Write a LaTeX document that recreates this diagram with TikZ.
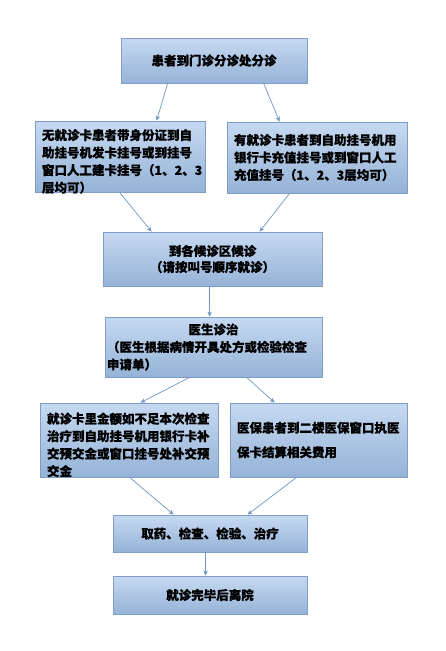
\documentclass[tikz,border=0pt]{standalone}
\usepackage{fontspec}
\newfontfamily\cjk{Noto Sans CJK SC}[BoldFeatures={FakeBold=0.6}]
\usepackage{xcolor}
\usepackage{tikz}
\usetikzlibrary{arrows.meta, positioning}

\definecolor{boxtop}{HTML}{C6D9F1}
\definecolor{boxbot}{HTML}{95B3D7}
\definecolor{boxline}{HTML}{7F9DC6}
\definecolor{arrowc}{HTML}{6F95C6}

\begin{document}
\begin{tikzpicture}[
    x=1pt, y=-1pt,
    box/.style={rectangle, draw=boxline, line width=0.8pt,
                top color=boxtop, bottom color=boxbot,
                inner xsep=7pt, inner ysep=2pt,
                font=\cjk\bfseries\fontsize{12.5}{17.5}\selectfont},
    flow/.style={box, align=center},
    note/.style={box, align=left},
    arrow/.style={-{Stealth[length=5pt, width=4.5pt]}, draw=arrowc, line width=0.7pt},
]
\useasboundingbox (0,0) rectangle (445,651);

% ── Row 1 : triage ────────────────────────────────────────────────
\node[flow, minimum width=186pt, minimum height=45pt]
                (arrive)  at (214,60.5) {患者到门诊分诊处分诊};

% ── Row 2 : registration (no card / has card) ─────────────────────
% text depth trimmed so the four lines sit a little lower in the box
\node[note, text width=156pt, minimum height=71pt, text depth=44pt]
                (nocard)  at (120,156.5)
    {无就诊卡患者带身份证到自\\助挂号机发卡挂号或到挂号\\窗口人工建卡挂号（1、2、3\\层均可）};
\node[note, text width=166pt, minimum height=71pt]
                (hascard) at (317,157.5)
    {有就诊卡患者到自助挂号机用\\银行卡充值挂号或到窗口人工\\充值挂号（1、2、3层均可）};

% ── Row 3 : waiting ───────────────────────────────────────────────
\node[flow, minimum width=219pt, minimum height=54pt]
                (wait)    at (212.5,259) {到各候诊区候诊\\[-1.5pt]（请按叫号顺序就诊）};

% ── Row 4 : doctor ────────────────────────────────────────────────
\node[note, inner xsep=2pt, text width=213pt, minimum height=60pt]
                (doctor)  at (213.5,347)
    {\makebox[\linewidth]{医生诊治}\\（医生根据病情开具处方或检验检查\\申请单）};

% ── Row 5 : payment ───────────────────────────────────────────────
\node[note, text width=164pt, minimum height=74pt, text depth=44pt]
                (refill)  at (129,440)
    {就诊卡里金额如不足本次检查\\治疗到自助挂号机用银行卡补\\交预交金或窗口挂号处补交预\\交金};
\node[note, text width=163pt, minimum height=74pt]
                (insur)   at (318.5,440)
    {医保患者到二楼医保窗口执医\\[7pt]保卡结算相关费用};

% ── Row 6/7 : treatment and leaving ───────────────────────────────
\node[flow, minimum width=194pt, minimum height=37pt]
                (treat)   at (210,533.5) {取药、检查、检验、治疗};
\node[flow, minimum width=194pt, minimum height=38pt]
                (leave)   at (210,595) {就诊完毕后离院};

% ── Arrows ────────────────────────────────────────────────────────
\draw[arrow] ([xshift=47pt]arrive.south west)  -- ([xshift=122pt]nocard.north west);
\draw[arrow] ([xshift=143pt]arrive.south west) -- ([xshift=53pt]hascard.north west);

\draw[arrow] ([xshift=85pt]nocard.south west)  -- ([xshift=49pt]wait.north west);
\draw[arrow] ([xshift=63pt]hascard.south west) -- ([xshift=157pt]wait.north west);

\draw[arrow] ([xshift=107pt]wait.south west)   -- ([xshift=105pt]doctor.north west);

\draw[arrow] ([xshift=85pt]doctor.south west)  -- ([xshift=101pt]refill.north west);
\draw[arrow] ([xshift=142pt]doctor.south west) -- ([xshift=45pt]insur.north west);

\draw[arrow] ([xshift=90pt]refill.south west)  -- ([xshift=61pt]treat.north west);
\draw[arrow] ([xshift=67pt]insur.south west)   -- ([xshift=135pt]treat.north west);

\draw[arrow] ([xshift=93pt]treat.south west)   -- ([xshift=93pt]leave.north west);

\end{tikzpicture}
\end{document}
